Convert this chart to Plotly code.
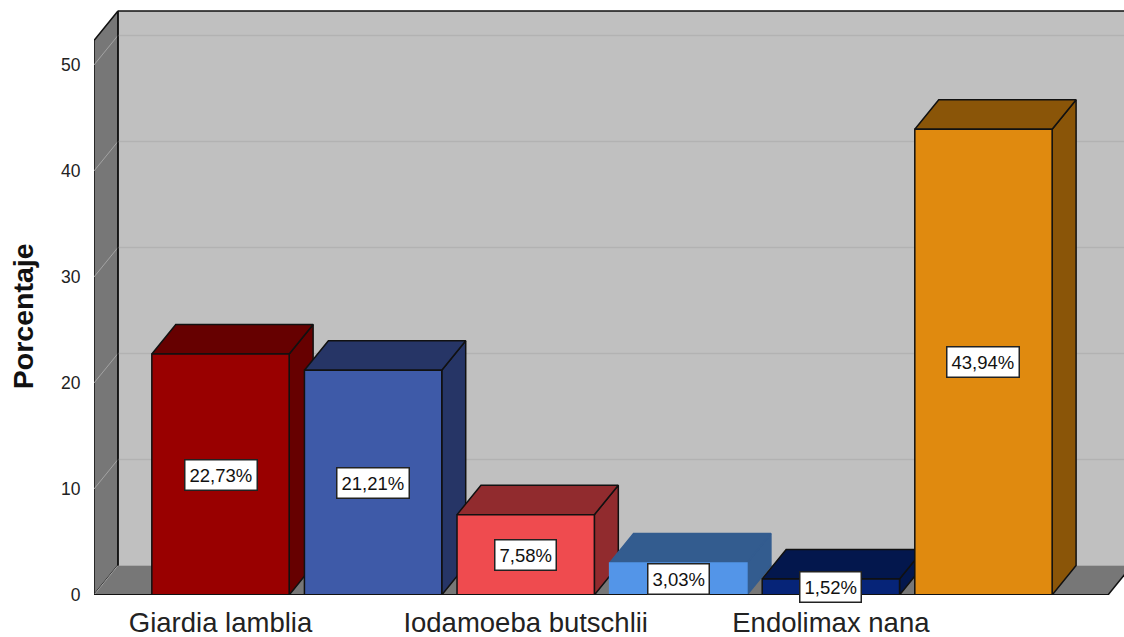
import plotly.graph_objects as go

categories = ["Giardia lamblia", "Blastocystis hominis", "Iodamoeba butschlii", "Chilomastix mesnili", "Endolimax nana", "Entamoeba coli"]
tick_labels = ["Giardia lamblia", "", "Iodamoeba butschlii", "", "Endolimax nana", ""]
values = [22.73, 21.21, 7.58, 3.03, 1.52, 43.94]
labels = ["22,73%", "21,21%", "7,58%", "3,03%", "1,52%", "43,94%"]
front_colors = ["#990000", "#3E5AA8", "#EF4B4F", "#5395E8", "#062478", "#E08A0F"]
top_colors = ["#660000", "#263566", "#912B2E", "#335C8F", "#03174D", "#8A5508"]
edge_colors = ["#111111", "#111111", "#111111", "#5395E8", "#111111", "#111111"]
y_ticks = [0, 10, 20, 30, 40, 50]
y_title = "Porcentaje"

# axis geometry
X0, X1 = -0.829, 5.921
Y1 = 55.28
BAR_W = 0.9
DX, DY = 0.157, 2.78
WALL_TOP = 55.09
X_RIGHT = 5.816

BACK = "#C0C0C0"
SIDE = "#777777"
GRID_BACK = "#B2B2B2"
GRID_SIDE = "#A3A3A3"
INK = "#111111"
FONT = "Liberation Sans, Arial, sans-serif"

fig = go.Figure()


def face(xs, ys, fill, line=INK, width=1.5):
    fig.add_trace(go.Scatter(x=xs + xs[:1], y=ys + ys[:1], mode="lines", fill="toself",
                             fillcolor=fill, line=dict(color=line, width=width),
                             hoverinfo="skip", showlegend=False))


def seg(xs, ys, color, width=1.5):
    fig.add_trace(go.Scatter(x=xs, y=ys, mode="lines", line=dict(color=color, width=width),
                             hoverinfo="skip", showlegend=False))


# walls and floor
face([X0 + DX, X1 + 1, X1 + 1, X0 + DX], [DY, DY, WALL_TOP, WALL_TOP], BACK, line="rgba(0,0,0,0)", width=0)
face([X0, X0 + DX, X0 + DX, X0], [0, DY, WALL_TOP, WALL_TOP - DY], SIDE)
face([X0, X0 + DX, X_RIGHT + DX, X_RIGHT], [0, DY, DY, 0], SIDE, line="rgba(0,0,0,0)", width=0)
for t in y_ticks[1:]:
    seg([X0 + DX, X1 + 1], [t + DY, t + DY], GRID_BACK, 1.5)
    seg([X0, X0 + DX], [t, t + DY], GRID_SIDE, 1)
seg([X0, X0 + DX], [0, DY], GRID_SIDE, 1)
seg([X0 + DX, X0 + DX], [DY, WALL_TOP], INK, 1.5)
seg([X0 + DX, X1 + 1], [WALL_TOP, WALL_TOP], INK, 1.5)
seg([X_RIGHT, X_RIGHT + DX], [0, DY], INK, 1.5)

# bars, painted left to right
for i, v in enumerate(values):
    l, r = i - BAR_W / 2, i + BAR_W / 2
    e = edge_colors[i]
    face([r, r + DX, r + DX, r], [0, DY, v + DY, v], top_colors[i], line=e if e == INK else top_colors[i])
    face([l, r, r + DX, l + DX], [v, v, v + DY, v + DY], top_colors[i], line=e if e == INK else top_colors[i])
    face([l, r, r, l], [0, 0, v, v], front_colors[i], line=e)

seg([X0, X_RIGHT], [0, 0], INK, 2)

for i, v in enumerate(values):
    fig.add_annotation(x=i, y=v / 2, text=labels[i], showarrow=False,
                       font=dict(family=FONT, size=18.5, color="#111111"),
                       bgcolor="white", bordercolor="#222222", borderwidth=1.5, borderpad=4)

fig.add_annotation(xref="paper", yref="y", x=-0.0689, y=26.3, text="<b>" + y_title + "</b>",
                   textangle=-90, showarrow=False, xanchor="center", yanchor="middle",
                   font=dict(family=FONT, size=28.5, color="#111111"))

fig.update_layout(
    width=1124, height=637, autosize=False,
    margin=dict(l=94, r=0, t=9, b=42),
    paper_bgcolor="white", plot_bgcolor="white",
    showlegend=False,
    xaxis=dict(range=[X0, X1], showgrid=False, zeroline=False, showline=False, automargin=False,
               tickmode="array", tickvals=list(range(len(categories))), ticktext=tick_labels,
               ticks="outside", ticklen=3, tickcolor="rgba(0,0,0,0)",
               tickfont=dict(family=FONT, size=27.5, color="#222222")),
    yaxis=dict(range=[0, Y1], showgrid=False, zeroline=False, showline=False, automargin=False,
               tickmode="array", tickvals=y_ticks,
               ticks="outside", ticklen=9, tickcolor="rgba(0,0,0,0)",
               tickfont=dict(family=FONT, size=17.5, color="#222222")),
)

fig.write_html("out.html", config={"displayModeBar": False},
               post_script="document.body.style.margin='0';")
